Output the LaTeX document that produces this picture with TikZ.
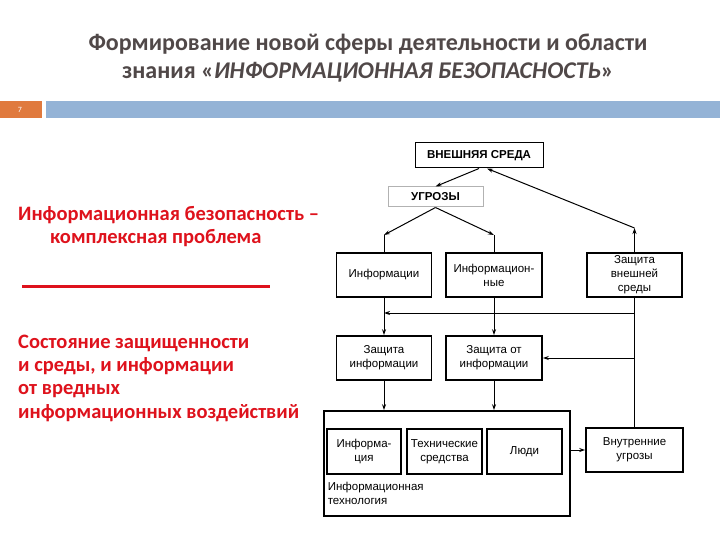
\documentclass[tikz,border=0pt]{standalone}
\usepackage{fontspec}
\setmainfont{Carlito}
\newfontfamily\diagfont{Liberation Sans}
\usetikzlibrary{arrows.meta}
\definecolor{titlegray}{RGB}{80,72,72}
\definecolor{slideorange}{RGB}{224,122,62}
\definecolor{slideblue}{RGB}{148,179,214}
\definecolor{slidered}{RGB}{222,18,28}
\tikzset{
  box/.style={draw, line width=1.6pt, align=center, inner sep=1pt,
    font=\diagfont\fontsize{11.5}{14}\selectfont},
  conn/.style={line width=1pt},
  arr/.style={conn, -{Stealth[length=6pt,width=4pt]}},
  redtext/.style={text=slidered, align=left, anchor=west, inner sep=0pt,
    font=\bfseries\fontsize{20.5}{23.3}\selectfont}
}
\begin{document}
\begin{tikzpicture}[x=1pt, y=-1pt]
			\useasboundingbox (0,0) rectangle (720,540);
			\node[text=titlegray, align=center, font=\bfseries\fontsize{24}{28}\selectfont] (title) at (368,58)
				{Формирование новой сферы деятельности и области\\знания «\textit{ИНФОРМАЦИОННАЯ БЕЗОПАСНОСТЬ}»};
			\fill[slideorange] (0,101) rectangle (42,118);
			\node[text=white, font=\fontsize{8}{9}\selectfont] (num) at (20,109.5) {7};
			\fill[slideblue] (46,101) rectangle (720,118);
			\node[redtext] (def) at (18,226.5)
				{Информационная безопасность –\\\hspace*{32pt}комплексная проблема};
			\draw[slidered, line width=3pt] (22,286) -- (270,286);
			\node[redtext] (state) at (18,378)
				{Состояние защищенности\\и среды, и информации\\от вредных\\информационных воздействий};
			\node[box, line width=1pt, minimum width=128pt, minimum height=25pt, font=\diagfont\bfseries\fontsize{11.5}{13}\selectfont] (ext) at (479,155.5) {ВНЕШНЯЯ СРЕДА};
			\node[box, draw=gray!60, line width=1pt, minimum width=95pt, minimum height=20pt, font=\diagfont\bfseries\fontsize{11.5}{13}\selectfont] (thr) at (435.5,197) {УГРОЗЫ};
			\node[box, minimum width=95pt, minimum height=44pt] (inf) at (384,275) {Информации};
			\node[box, minimum width=96pt, minimum height=44pt] (infn) at (494,275) {Информацион-\\ные};
			\node[box, minimum width=95pt, minimum height=44pt] (zext) at (634.5,275) {Защита\\внешней\\среды};
			\node[box, minimum width=95pt, minimum height=44pt] (zinf) at (384,358) {Защита\\информации};
			\node[box, minimum width=96pt, minimum height=44pt] (zfrom) at (494,358) {Защита от\\информации};
			\node[box, minimum width=246pt, minimum height=105pt] (it) at (447,463.5) {};
			\node[box, minimum width=74pt, minimum height=45pt] (tinf) at (364,451.5) {Информа-\\ция};
			\node[box, minimum width=75pt, minimum height=45pt] (ttech) at (444.5,451.5) {Технические\\средства};
			\node[box, minimum width=75pt, minimum height=45pt] (tpeople) at (524.5,451.5) {Люди};
			\node[box, draw=none, align=left, anchor=north west] (itlabel) at (326,480) {Информационная\\технология};
			\node[box, minimum width=97pt, minimum height=44pt] (intthr) at (634.5,450) {Внутренние\\угрозы};
			\coordinate (s1) at (inf.north |- 0,235);
			\coordinate (s2) at (infn.north |- 0,235);
			\coordinate (up) at (zext.north |- 0,228);
			\coordinate (h1) at (zext.south |- 0,313);
			\coordinate (h2) at (inf.south |- 0,313);
			\coordinate (h3) at (zext.south |- zfrom.east);
			\draw[arr] (ext.south) -- (thr.north);
			\draw[arr] (thr.south) -- (s1);
			\draw[arr] (thr.south) -- (s2);
			\draw[conn] (s1) -- (inf.north);
			\draw[conn] (s2) -- (infn.north);
			\draw[arr] (zext.north) -- (up);
			\draw[arr] (up) -- ([xshift=8pt]ext.south);
			\draw[arr] (inf.south) -- (zinf.north);
			\draw[arr] (infn.south) -- (zfrom.north);
			\draw[conn] (zext.south) -- (intthr.north);
			\draw[arr] (h1) -- (h2);
			\draw[arr] (h3) -- (zfrom.east);
			\draw[arr] (zinf.south) -- (zinf.south |- it.north);
			\draw[arr] (zfrom.south) -- (zfrom.south |- it.north);
			\draw[arr] (it.east |- intthr.west) -- (intthr.west);
		\end{tikzpicture}
\end{document}
